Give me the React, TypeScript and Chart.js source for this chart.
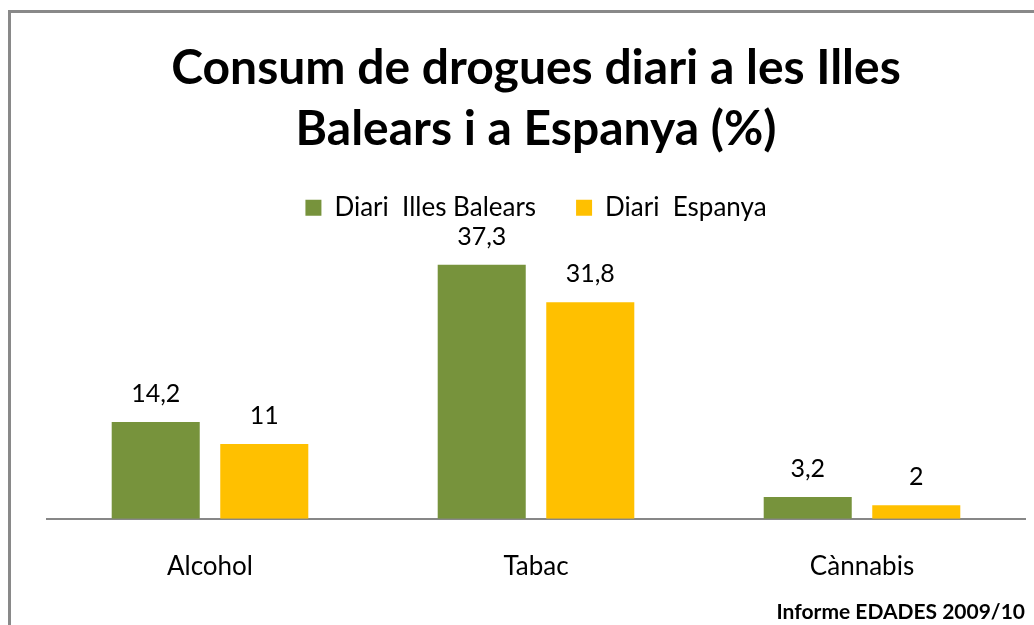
import React, { useEffect, useRef } from "react";
import { Chart, registerables } from "chart.js";

Chart.register(...registerables);

const categories = ["Alcohol", "Tabac", "Cànnabis"];
const seriesNames = ["Diari  Illes Balears", "Diari  Espanya"];
const balearsValues = [14.2, 37.3, 3.2];
const espanyaValues = [11, 31.8, 2];
const titleLines = ["Consum de drogues diari a les Illes", "Balears i a Espanya (%)"];
const sourceText = "Informe EDADES 2009/10";

const GREEN = "#77933C";
const YELLOW = "#FFC000";
const FONT = "Lato, 'Open Sans', sans-serif";

const dataLabelPlugin = {
  id: "dataLabels",
  afterDatasetsDraw(chart: any) {
    const ctx = chart.ctx;
    ctx.save();
    ctx.font = `25px ${FONT}`;
    ctx.fillStyle = "#000";
    ctx.textAlign = "center";
    ctx.textBaseline = "middle";
    chart.data.datasets.forEach((ds: any, i: number) => {
      const meta = chart.getDatasetMeta(i);
      meta.data.forEach((el: any, j: number) => {
        const v = ds.data[j];
        ctx.fillText(String(v).replace(".", ","), el.x, el.y - 28);
      });
    });
    ctx.restore();
  },
};

const sourcePlugin = {
  id: "sourceText",
  afterDraw(chart: any) {
    const ctx = chart.ctx;
    ctx.save();
    ctx.font = `bold 21px ${FONT}`;
    ctx.fillStyle = "#000";
    ctx.textAlign = "right";
    ctx.textBaseline = "alphabetic";
    ctx.fillText(sourceText, 1014, 619);
    ctx.restore();
  },
};

export default function App() {
  const ref = useRef<HTMLCanvasElement | null>(null);
  useEffect(() => {
    if (!ref.current) return;
    const chart = new Chart(ref.current, {
      type: "bar",
      data: {
        labels: categories,
        datasets: [
          { label: seriesNames[0], data: balearsValues, backgroundColor: GREEN },
          { label: seriesNames[1], data: espanyaValues, backgroundColor: YELLOW },
        ],
      },
      options: {
        responsive: false,
        animation: false,
        categoryPercentage: 0.666,
        barPercentage: 0.811,
        layout: { padding: { left: 36, right: 25, top: 0, bottom: 19 } },
        plugins: {
          title: {
            display: true,
            text: titleLines,
            color: "#000",
            font: { family: FONT, size: 48, weight: "bold", lineHeight: 1.26 },
            padding: { top: 38.75, bottom: -5 },
          },
          legend: {
            display: true,
            position: "top",
            labels: {
              color: "#000",
              font: { family: FONT, size: 26 },
              boxWidth: 16,
              boxHeight: 16,
              padding: 40,
            },
          },
          tooltip: { enabled: false },
        },
        scales: {
          x: {
            grid: { display: false },
            border: { display: true, color: "#878787", width: 2 },
            ticks: { color: "#000", font: { family: FONT, size: 26 }, padding: 24 },
          },
          y: { display: false, min: 0, max: 42.3 },
        },
      } as any,
      plugins: [dataLabelPlugin, sourcePlugin],
    });
    return () => chart.destroy();
  }, []);

  return (
    <div style={{ position: "fixed", inset: 0, overflow: "hidden", background: "#fff" }}>
      <div
        style={{
          position: "absolute",
          left: 8,
          top: 10,
          width: 2000,
          height: 2000,
          border: "3px solid #898989",
        }}
      />
      <canvas
        ref={ref}
        width={1039}
        height={625}
        style={{ position: "absolute", left: 11, top: 0, width: 1039, height: 625 }}
      />
    </div>
  );
}
